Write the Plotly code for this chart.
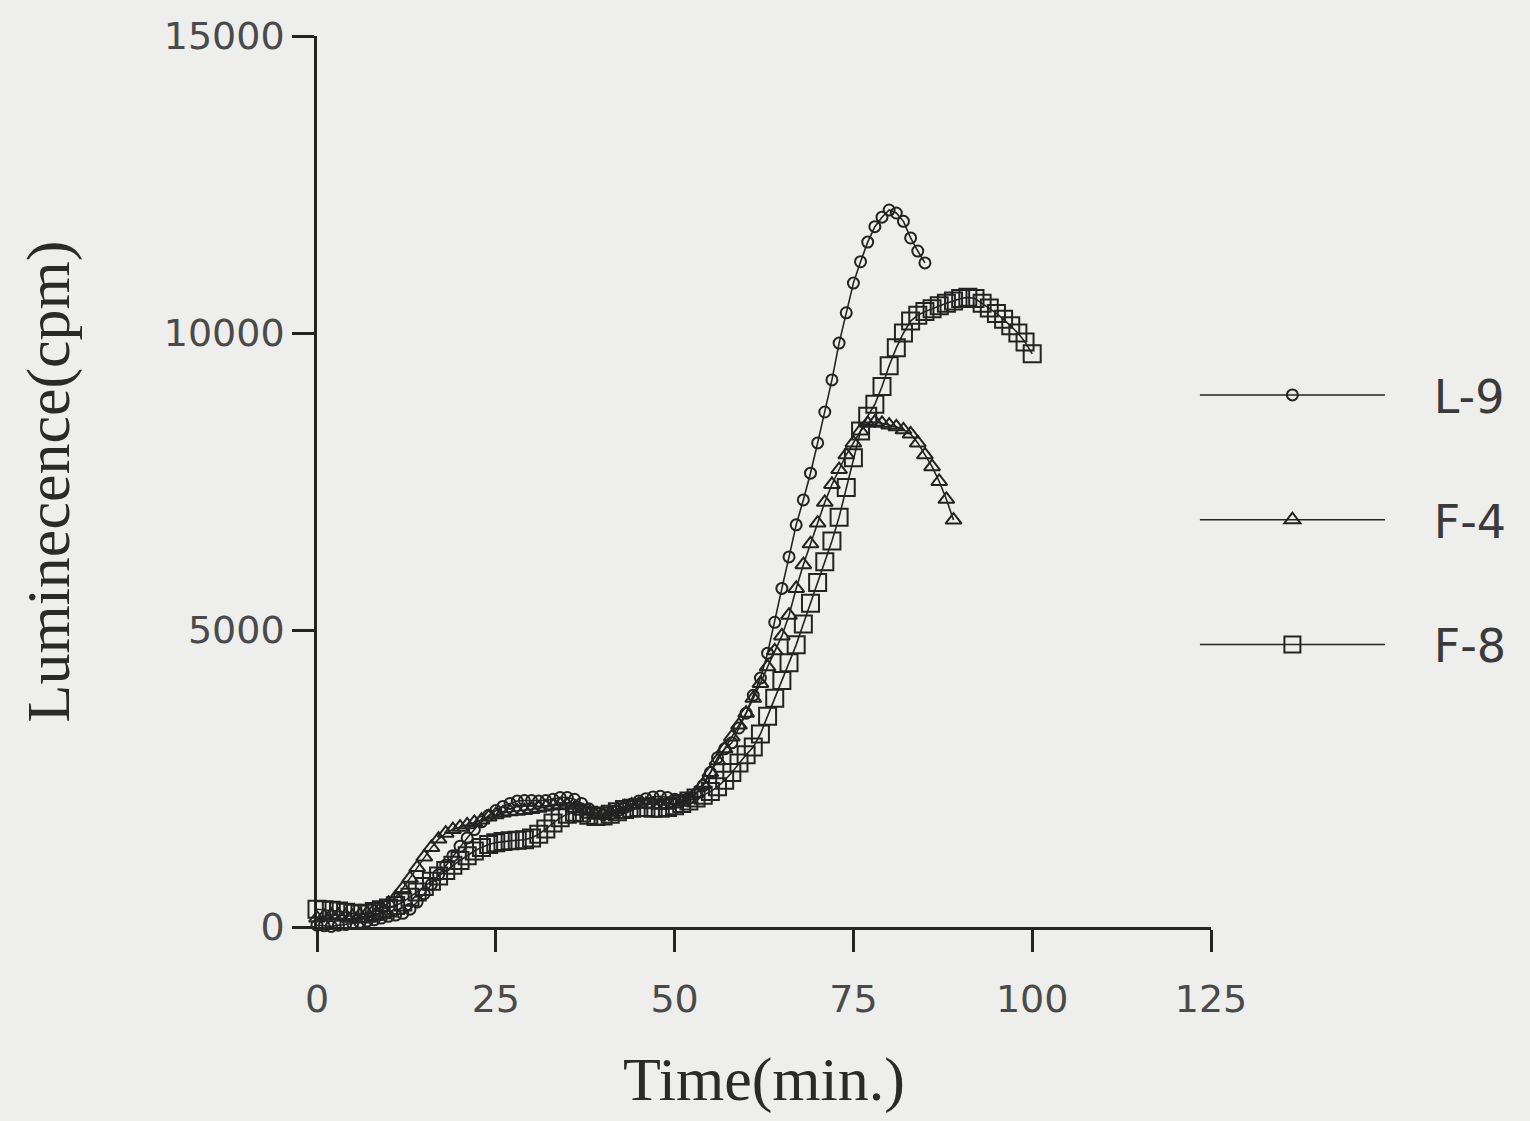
import plotly.graph_objects as go

# Time (min.) sampling for each series
t_L9 = list(range(0, 86))
t_F4 = list(range(0, 90))
t_F8 = list(range(0, 101))

# Luminescence (cpm)
L9 = [30, 20, 10, 30, 40, 60, 80, 100, 120, 150,
      180, 200, 230, 300, 420, 560, 720, 880, 1040, 1200,
      1360, 1500, 1640, 1770, 1880, 1960, 2030, 2080, 2120, 2130,
      2130, 2120, 2130, 2150, 2180, 2180, 2150, 2080, 1990, 1920,
      1890, 1900, 1950, 2010, 2070, 2120, 2160, 2190, 2200, 2180,
      2150, 2140, 2170, 2240, 2380, 2600, 2850, 3000, 3100, 3350,
      3600, 3900, 4190, 4610, 5130, 5700, 6230, 6770, 7190, 7640,
      8150, 8670, 9210, 9830, 10340, 10840, 11200, 11530, 11790, 11950,
      12070, 12020, 11880, 11600, 11380, 11180]

F4 = [150, 180, 200, 200, 190, 180, 200, 230, 280, 330,
      400, 500, 650, 820, 1000, 1180, 1340, 1480, 1580, 1640,
      1680, 1720, 1760, 1800, 1850, 1890, 1920, 1940, 1950, 1960,
      1980, 2000, 2020, 2040, 2060, 2050, 2000, 1950, 1900, 1880,
      1890, 1930, 1980, 2020, 2050, 2070, 2070, 2060, 2050, 2050,
      2070, 2100, 2150, 2250, 2400, 2600, 2800, 3000, 3200, 3400,
      3600, 3850, 4100, 4380, 4650, 4900, 5250, 5700, 6100, 6450,
      6800, 7150, 7450, 7700, 7950, 8150, 8350, 8480, 8500, 8480,
      8450, 8420, 8370, 8300, 8150, 7950, 7750, 7500, 7200, 6850]

F8 = [300, 290, 280, 270, 250, 230, 220, 230, 260, 290,
      320, 360, 420, 500, 590, 680, 770, 860, 950, 1040,
      1120, 1200, 1280, 1340, 1390, 1420, 1440, 1450, 1460, 1470,
      1500, 1560, 1650, 1750, 1840, 1900, 1930, 1920, 1880, 1860,
      1870, 1900, 1940, 1980, 2000, 2010, 2010, 2000, 2000, 2010,
      2040, 2080, 2120, 2170, 2220, 2280, 2360, 2470, 2600, 2760,
      2900, 3030, 3250, 3550, 3850, 4150, 4450, 4750, 5100, 5450,
      5800, 6150, 6500, 6900, 7400, 7900, 8350, 8600, 8800, 9100,
      9450, 9750, 10000, 10200, 10300, 10360, 10410, 10460, 10500, 10540,
      10580, 10600, 10580, 10500, 10420, 10330, 10230, 10120, 10000, 9850,
      9650]

series_names = ["L-9", "F-4", "F-8"]
x_ticks = [0, 25, 50, 75, 100, 125]
y_ticks = [0, 5000, 10000, 15000]
y_tick_text = ["0", "5000", "10000", "15000"]

INK = "#232323"
BG = "#eeeeec"
PAD = "\u00a0\u00a0\u00a0"

fig = go.Figure()
specs = [
    (t_L9, L9, "circle-open", 11),
    (t_F4, F4, "triangle-up-open", 14),
    (t_F8, F8, "square-open", 17),
]
for name, (tx, vy, sym, sz) in zip(series_names, specs):
    fig.add_trace(go.Scatter(
        x=tx, y=vy, name=PAD + name, mode="lines+markers",
        line=dict(color=INK, width=1.6),
        marker=dict(symbol=sym, size=sz, color=INK, line=dict(color=INK, width=2)),
        cliponaxis=False, legendgroup=name,
    ))

tick_font = dict(family="DejaVu Sans", size=38, color="#4a4a4a")
title_font = dict(family="Liberation Serif", size=62, color="#2a2a2a")

fig.update_layout(
    width=1530, height=1121,
    paper_bgcolor=BG, plot_bgcolor=BG,
    margin=dict(l=317, r=319, t=36, b=194, autoexpand=False),
    showlegend=True,
    legend=dict(
        x=0.982, xanchor="left", y=0.638, yanchor="top",
        font=dict(family="DejaVu Sans", size=46, color="#3a3a3a"),
        itemwidth=185, tracegroupgap=62, bgcolor="rgba(0,0,0,0)",
    ),
    xaxis=dict(
        range=[0, 125], tickvals=x_ticks, showgrid=False, zeroline=False,
        showline=True, linecolor=INK, linewidth=2.5,
        ticks="outside", ticklen=22, tickwidth=2.5, tickcolor=INK,
        tickfont=tick_font, ticklabelstandoff=15,
        title=dict(text="Time(min.)", font=title_font, standoff=37),
        automargin=False,
    ),
    yaxis=dict(
        range=[0, 15000], tickvals=y_ticks, ticktext=y_tick_text,
        showgrid=False, zeroline=False,
        showline=True, linecolor=INK, linewidth=2.5,
        ticks="outside", ticklen=22, tickwidth=2.5, tickcolor=INK,
        tickfont=tick_font, ticklabelstandoff=0,
        title=dict(text="Luminecence(cpm)", font=title_font, standoff=75),
        automargin=False,
    ),
)

fig.write_html("out.html", config={"displayModeBar": False},
               post_script="document.body.style.margin='0';")
